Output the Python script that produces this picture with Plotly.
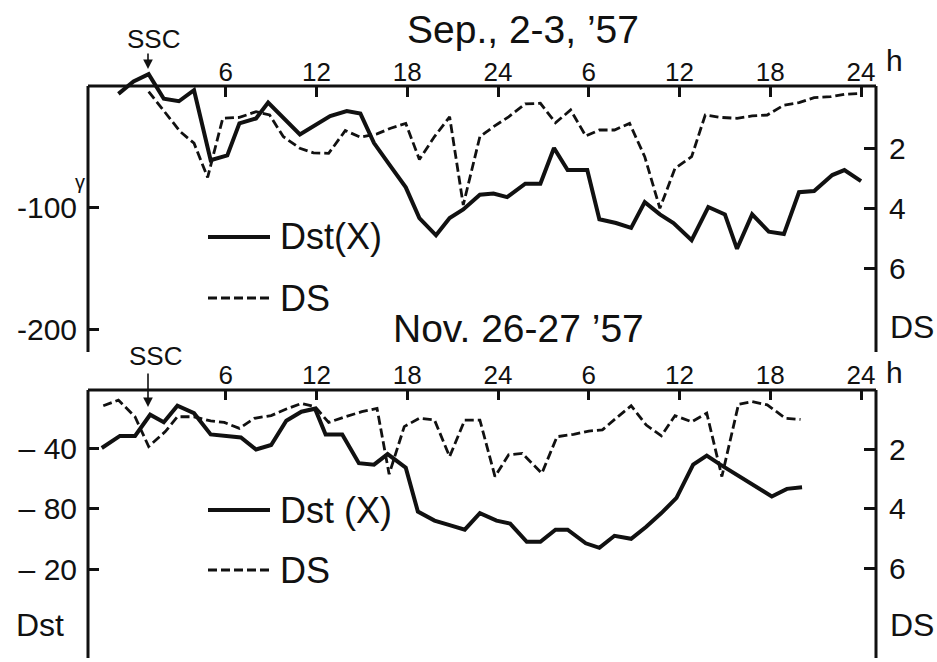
import plotly.graph_objects as go

# ---- Sep. 2-3, 1957 ----
sep_dst_hour = [-1.1, -0.1, 0.9, 1.9, 2.9, 3.9, 5.0, 6.1, 6.9, 8.0, 8.8, 10.9, 12.9, 14.0, 14.9,
                15.8, 16.9, 17.9, 18.8, 19.9, 20.8, 21.7, 22.8, 23.7, 24.6, 25.8, 26.8, 27.7, 28.6,
                29.9, 30.7, 31.8, 32.8, 33.7, 34.7, 35.6, 36.8, 37.9, 39.0, 39.8, 40.8, 41.9, 42.9,
                43.9, 44.9, 46.1, 46.9, 48.0]
sep_dst = [-8, 2, 8, -12, -14, -5, -62, -58, -32, -28, -15, -41, -26, -22, -24,
           -48, -67, -84, -109, -123, -109, -102, -90, -89, -92, -81, -81, -52, -70,
           -70, -110, -113, -117, -96, -106, -113, -127, -100, -106, -134, -106, -120, -122,
           -88, -87, -74, -70, -79]

sep_ds_hour = [0.9, 3.0, 3.9, 4.8, 5.8, 6.9, 8.0, 8.9, 9.8, 10.9, 11.8, 12.8, 13.9, 14.9, 16.0,
               16.9, 17.9, 18.8, 19.8, 20.8, 21.7, 22.8, 23.7, 24.7, 25.8, 26.8, 27.8, 28.8, 29.8,
               30.7, 31.7, 32.7, 33.7, 34.7, 35.7, 36.8, 37.7, 38.7, 39.8, 40.8, 41.8, 42.9, 43.9,
               44.9, 46.0, 46.9, 48.0]
sep_ds = [0.12, 1.46, 1.84, 2.98, 1.01, 0.98, 0.79, 0.90, 1.62, 2.01, 2.16, 2.18, 1.42, 1.64, 1.53,
          1.34, 1.18, 2.38, 1.62, 0.96, 3.90, 1.62, 1.29, 0.96, 0.53, 0.51, 1.16, 0.73, 1.60,
          1.40, 1.40, 1.18, 2.29, 4.01, 2.68, 2.29, 0.90, 0.98, 1.01, 0.93, 0.90, 0.57, 0.49,
          0.32, 0.29, 0.21, 0.18]

# ---- Nov. 26-27, 1957 ----
nov_dst_hour = [-2.2, -1.0, 0.0, 1.0, 1.9, 2.8, 3.9, 5.0, 7.0, 8.0, 9.0, 10.0, 11.0, 11.9, 12.6,
                13.7, 14.8, 15.8, 16.7, 17.9, 18.7, 19.8, 20.8, 21.8, 22.8, 23.9, 24.8, 25.9, 26.8,
                27.8, 28.6, 29.8, 30.7, 31.7, 32.8, 33.8, 34.8, 35.8, 36.9, 37.8, 38.7, 40.0, 41.1,
                42.1, 43.1, 44.1]
nov_dst = [-40, -32, -32, -18, -23, -12, -17, -31, -33, -41, -38, -22, -16, -14, -31,
           -31, -50, -51, -44, -53, -82, -88, -91, -94, -83, -88, -90, -102, -102,
           -94, -94, -103, -106, -98, -100, -92, -83, -73, -51, -45, -51, -59, -66,
           -72, -67, -66]

nov_ds_hour = [-2.1, -1.1, 0.0, 0.9, 2.0, 2.8, 3.9, 5.0, 5.9, 6.9, 7.9, 9.0, 10.0, 11.0, 11.9,
               12.8, 13.9, 15.0, 16.0, 16.8, 17.8, 18.8, 19.8, 20.8, 21.8, 22.8, 23.8, 24.7, 25.6,
               26.9, 27.9, 29.0, 30.0, 30.9, 31.8, 32.8, 33.8, 34.8, 35.7, 36.8, 37.8, 38.8, 39.9,
               40.8, 41.8, 43.0, 44.0]
nov_ds = [0.53, 0.34, 0.90, 1.90, 1.40, 0.90, 0.90, 1.04, 1.09, 1.29, 0.95, 0.86, 0.64, 0.45, 0.56,
          1.09, 0.90, 0.73, 0.62, 2.83, 1.23, 0.95, 1.01, 2.24, 1.01, 1.01, 2.91, 2.18, 2.13,
          2.80, 1.57, 1.49, 1.38, 1.34, 0.95, 0.53, 1.18, 1.54, 0.86, 1.07, 0.78, 2.91, 0.48,
          0.39, 0.50, 0.95, 0.99]

# ---- axis ticks ----
hour_ticks = [6, 12, 18, 24, 30, 36, 42, 48]
hour_labels = ["6", "12", "18", "24", "6", "12", "18", "24"]
sep_dst_ticks = [-100, -200]
sep_dst_labels = ["-100", "-200"]
nov_dst_ticks = [-40, -80, -120]
nov_dst_labels = ["– 40", "– 80", "– 20"]
ds_ticks = [2, 4, 6]
ds_labels = ["2", "4", "6"]

W, H = 937, 662
FONT = "Liberation Sans Narrow, Liberation Sans, Arial, sans-serif"
INK = "#111111"


def fx(p):
    return p / W


def fy(p):
    return 1 - p / H


LEFT, RIGHT = 88, 876
X_RANGE = [-3.11, 48.99]

solid = dict(color=INK, width=4)
dashed = dict(color=INK, width=2.8, dash="9px,4px")

fig = go.Figure()
fig.add_trace(go.Scatter(x=sep_dst_hour, y=sep_dst, mode="lines", line=solid,
                         xaxis="x", yaxis="y", showlegend=False))
fig.add_trace(go.Scatter(x=sep_ds_hour, y=sep_ds, mode="lines", line=dashed,
                         xaxis="x", yaxis="y2", showlegend=False))
fig.add_trace(go.Scatter(x=nov_dst_hour, y=nov_dst, mode="lines", line=solid,
                         xaxis="x2", yaxis="y3", showlegend=False))
fig.add_trace(go.Scatter(x=nov_ds_hour, y=nov_ds, mode="lines", line=dashed,
                         xaxis="x2", yaxis="y4", showlegend=False))

tick_common = dict(ticks="inside", tickcolor=INK, tickwidth=2.5, showgrid=False,
                   zeroline=False, showline=False, color=INK)

xcommon = dict(domain=[fx(LEFT), fx(RIGHT)], range=X_RANGE, side="top",
               tickvals=hour_ticks, ticktext=hour_labels, ticklen=10,
               tickfont=dict(family=FONT, size=26, color=INK), **tick_common)

yleft = dict(ticklen=11, ticklabelstandoff=10,
             tickfont=dict(family=FONT, size=30, color=INK), **tick_common)
yright = dict(ticklen=12, ticklabelstandoff=12,
              tickfont=dict(family=FONT, size=30, color=INK), **tick_common)

fig.update_layout(
    width=W, height=H,
    margin=dict(l=0, r=0, t=0, b=0),
    paper_bgcolor="white", plot_bgcolor="white",
    xaxis=dict(anchor="free", position=fy(86), **xcommon),
    yaxis=dict(domain=[fy(352), fy(55)], range=[-217.9, 23.6], anchor="x",
               tickvals=sep_dst_ticks, ticktext=sep_dst_labels, **yleft),
    yaxis2=dict(overlaying="y", side="right", anchor="x", range=[8.8, -1.1],
                tickvals=ds_ticks, ticktext=ds_labels, **yright),
    xaxis2=dict(anchor="y3", **xcommon),
    yaxis3=dict(domain=[fy(658), fy(390)], range=[-178.8, -1.65], anchor="x2",
                tickvals=nov_dst_ticks, ticktext=nov_dst_labels, **yleft),
    yaxis4=dict(overlaying="y3", side="right", anchor="x2", range=[9.01, 0],
                tickvals=ds_ticks, ticktext=ds_labels, **yright),
)

# frame lines of both panels
frame = dict(color=INK, width=3)
shapes = []
for top, bottom in [(86, 352), (390, 658)]:
    shapes.append(dict(type="line", xref="paper", yref="paper",
                       x0=fx(LEFT), x1=fx(RIGHT), y0=fy(top), y1=fy(top), line=frame))
    for xp in (LEFT, RIGHT):
        shapes.append(dict(type="line", xref="paper", yref="paper",
                           x0=fx(xp), x1=fx(xp), y0=fy(top), y1=fy(bottom), line=frame))

# legend samples
for ys, yd in [(237, 298), (510, 570)]:
    shapes.append(dict(type="line", xref="paper", yref="paper",
                       x0=fx(208), x1=fx(270), y0=fy(ys), y1=fy(ys), line=solid))
    shapes.append(dict(type="line", xref="paper", yref="paper",
                       x0=fx(208), x1=fx(270), y0=fy(yd), y1=fy(yd), line=dashed))
fig.update_layout(shapes=shapes)


def label(text, xp, yp, size, xanchor="center", yanchor="middle", **kw):
    fig.add_annotation(text=text, x=fx(xp), y=fy(yp), xref="paper", yref="paper",
                       xanchor=xanchor, yanchor=yanchor, showarrow=False,
                       font=dict(family=FONT, size=size, color=INK), **kw)


label("Sep., 2-3, ’57", 523, 30, 39)
label("Nov. 26-27 ’57", 518, 328, 39)
label("SSC", 153, 39, 26)
label("SSC", 155, 356, 26)
label("h", 884, 60, 30, xanchor="left")
label("h", 884, 372, 30, xanchor="left")
label("γ", 80, 182, 20)
label("Dst(X)", 278, 237, 36, xanchor="left")
label("DS", 278, 298, 36, xanchor="left")
label("Dst (X)", 278, 510, 36, xanchor="left")
label("DS", 278, 570, 36, xanchor="left")
label("DS", 888, 327, 32, xanchor="left")
label("DS", 888, 625, 32, xanchor="left")
label("Dst", 40, 625, 32)

# sudden commencement arrows
for tail, tip in [(52, 69), (372, 407)]:
    fig.add_annotation(x=fx(148), y=fy(tip), xref="paper", yref="paper",
                       ax=0, ay=-(tip - tail), axref="pixel", ayref="pixel",
                       text="", showarrow=True, arrowhead=2, arrowsize=1.2,
                       arrowwidth=1.6, arrowcolor=INK)

fig.write_html("out.html")
